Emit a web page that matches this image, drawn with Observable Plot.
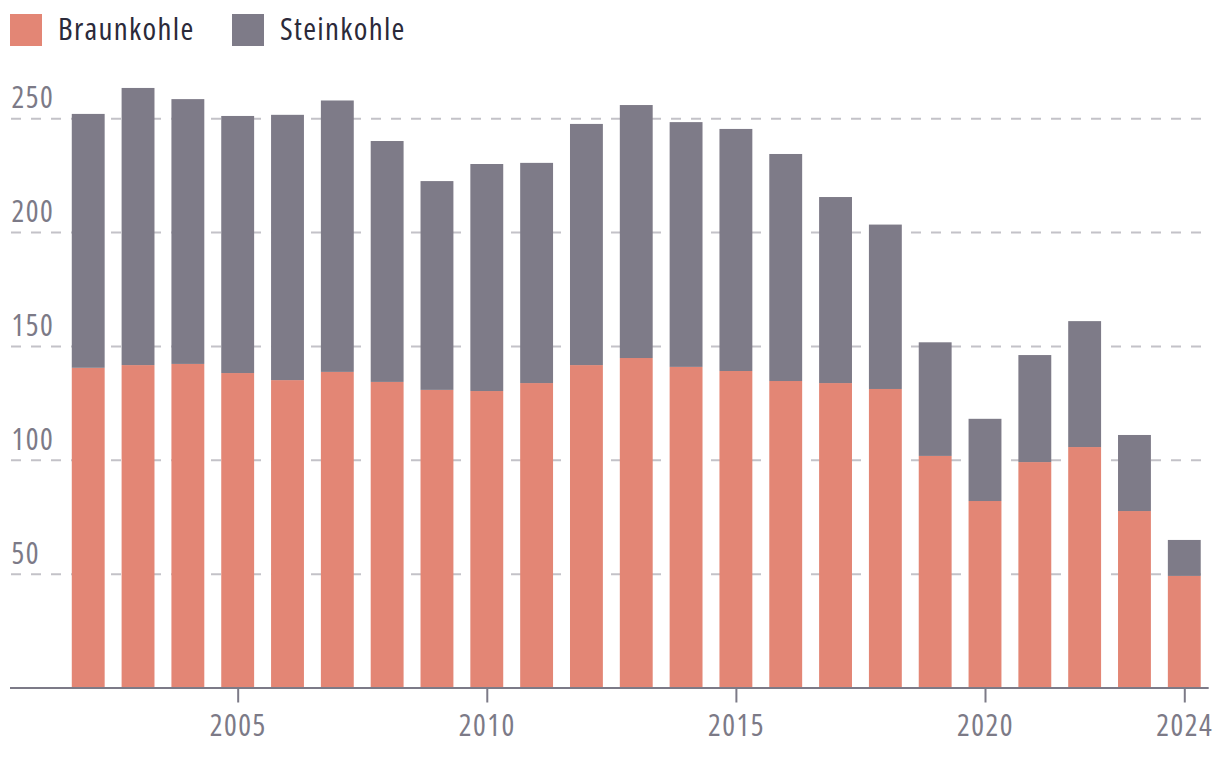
<!DOCTYPE html>
<html>
<head>
<meta charset="utf-8">
<script src="https://cdn.jsdelivr.net/npm/d3@7"></script>
<script src="https://cdn.jsdelivr.net/npm/@observablehq/plot@0.6"></script>
<style>
  html, body { margin: 0; padding: 0; background: #fff; }
  body { width: 1220px; height: 764px; overflow: hidden; font-family: "Open Sans", sans-serif; font-stretch: condensed; }
  #legend { position: relative; height: 60px; }
  .sw { position: absolute; top: 14px; width: 32px; height: 32px; }
  .lt { position: absolute; top: 8px; font-size: 31px; font-weight: 500; line-height: 40px; letter-spacing: 1.3px; color: #2b2a3a; }
  svg text { font-stretch: condensed; letter-spacing: 1.5px; }
</style>
</head>
<body>
<div id="legend"></div>
<div id="chart"></div>
<script>
const years = [2002,2003,2004,2005,2006,2007,2008,2009,2010,2011,2012,2013,2014,2015,2016,2017,2018,2019,2020,2021,2022,2023,2024];
const braunkohle = [140.4,141.6,142.1,138.1,135.0,138.6,134.2,130.7,130.2,133.7,141.6,144.7,140.8,139.0,134.6,133.7,131.1,101.7,81.9,99.0,105.6,77.5,49.0];
const steinkohle = [111.5,121.7,116.3,112.9,116.5,119.2,105.8,91.7,99.7,96.7,105.9,111.1,107.5,106.3,99.7,81.7,72.2,49.9,36.1,47.0,55.3,33.4,15.8];
const seriesNames = ["Braunkohle", "Steinkohle"];
const seriesColors = ["#e38675", "#7e7b88"];
const yTicks = [50, 100, 150, 200, 250];
const xTicks = [2005, 2010, 2015, 2020, 2024];

const data = years.map((year, i) => ({year, braun: braunkohle[i], stein: steinkohle[i]}));

// legend
const legend = document.getElementById("legend");
const legendPos = [[10, 58], [232, 280]];
seriesNames.forEach((name, i) => {
  const sw = document.createElement("div");
  sw.className = "sw"; sw.style.left = legendPos[i][0] + "px"; sw.style.background = seriesColors[i];
  const t = document.createElement("div");
  t.className = "lt"; t.style.left = legendPos[i][1] + "px"; t.textContent = name;
  legend.appendChild(sw); legend.appendChild(t);
});

const half = 0.33;
const chart = Plot.plot({
  width: 1220,
  height: 704,
  marginLeft: 10,
  marginRight: 11.3,
  marginTop: 12.7,
  marginBottom: 76.5,
  style: {fontFamily: '"Open Sans", sans-serif', background: "#fff"},
  x: {type: "linear", domain: [2000.43, 2024.49]},
  y: {domain: [0, 270]},
  marks: [
    Plot.ruleY(yTicks, {stroke: "#c3c2c8", strokeWidth: 2, strokeDasharray: "10,10", dx: 1}),
    Plot.rectY(data, {x1: d => d.year - half, x2: d => d.year + half, y1: 0, y2: "braun", fill: seriesColors[0]}),
    Plot.rectY(data, {x1: d => d.year - half, x2: d => d.year + half, y1: "braun", y2: d => d.braun + d.stein, fill: seriesColors[1]}),
    Plot.axisY(yTicks, {anchor: "left", tickSize: 0, tickPadding: -1, textAnchor: "start", dy: -20, fontSize: 30, fill: "#7c7a87", label: null}),
    Plot.axisX(xTicks, {anchor: "bottom", tickSize: 15, tickPadding: 12, fontSize: 30, stroke: "#7c7a87", strokeWidth: 2, fill: "#7c7a87", tickFormat: d => String(d), label: null}),
    Plot.ruleY([0], {stroke: "#7c7a87", strokeWidth: 2})
  ]
});
document.getElementById("chart").appendChild(chart);
</script>
</body>
</html>
